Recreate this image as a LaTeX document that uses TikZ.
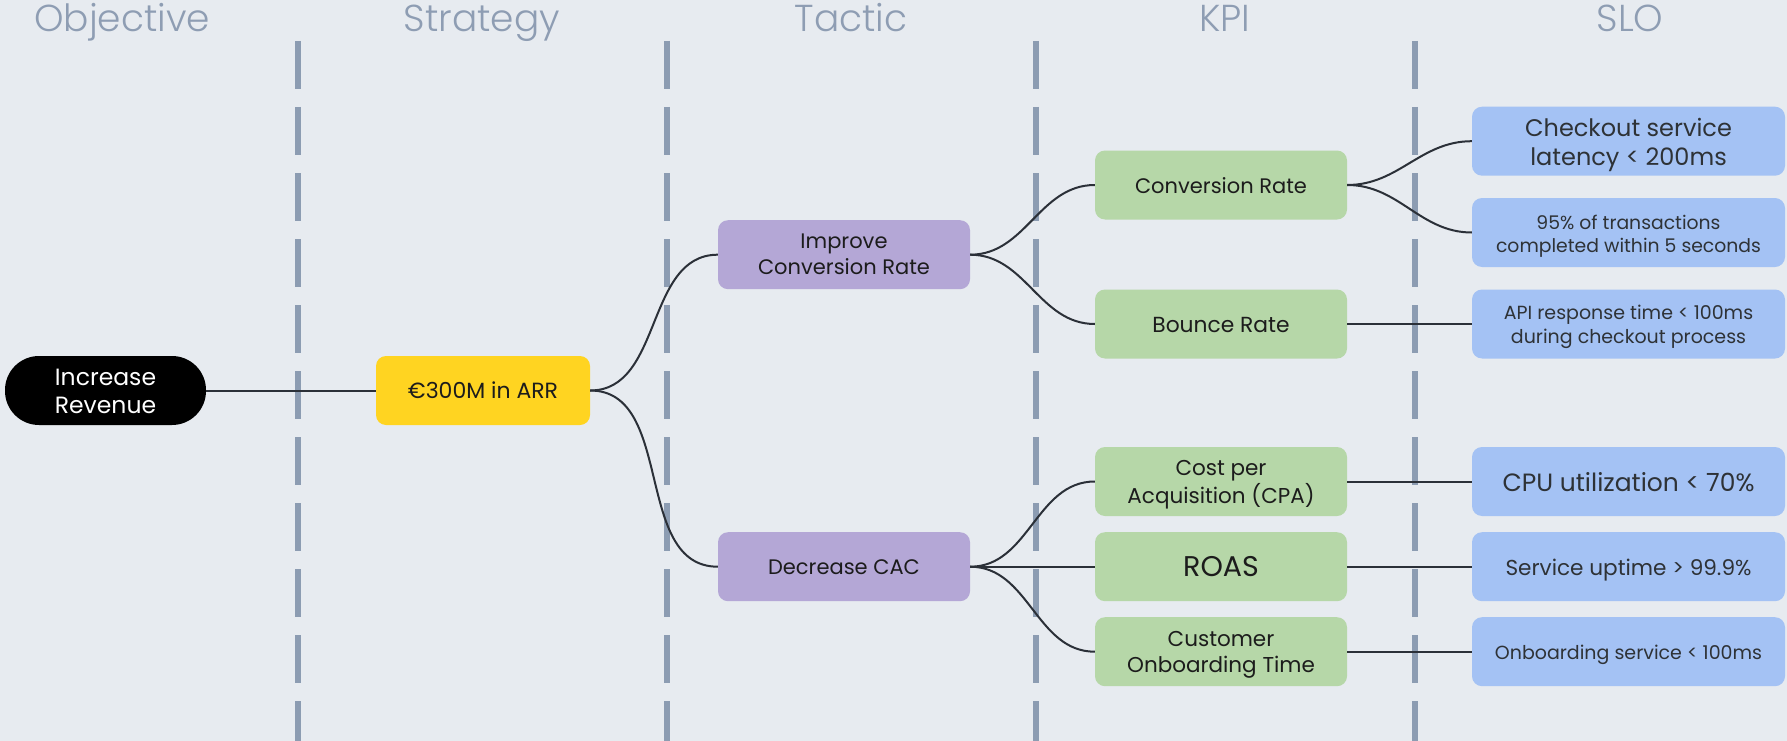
\documentclass[tikz,border=0pt]{standalone}
\usepackage{fontspec}
\setmainfont{Poppins}
\newfontfamily\hdrfont{Poppins Light}
\definecolor{bg}{HTML}{E7EBF0}
\definecolor{sepc}{HTML}{8C9CB2}
\definecolor{hdrc}{HTML}{8E9DB3}
\definecolor{linec}{HTML}{2B3038}
\definecolor{txt}{HTML}{1C1C1C}
\definecolor{slotxt}{HTML}{2E3236}
\definecolor{yel}{HTML}{FFD421}
\definecolor{pur}{HTML}{B4A7D6}
\definecolor{grn}{HTML}{B6D7A8}
\definecolor{blu}{HTML}{A4C2F4}
\newcommand\lowtxt[2]{\raisebox{-#1}[\height][\depth]{\begin{tabular}{@{}c@{}}#2\end{tabular}}}
\tikzset{
  sepline/.style={draw=sepc, line width=6pt, dash pattern=on 48pt off 18pt},
  hdr/.style={anchor=base, text=hdrc, font=\hdrfont\fontsize{37.5}{42}\selectfont},
  box/.style={rounded corners=10pt, minimum height=69pt, align=center, inner sep=0pt, text=txt, font=\fontsize{21}{26}\selectfont},
  objbox/.style={box, fill=black, text=white, minimum width=201pt, rounded corners=34pt, font=\fontsize{23.5}{28}\selectfont},
  strbox/.style={box, fill=yel, minimum width=214pt},
  tacbox/.style={box, fill=pur, minimum width=252pt},
  kpibox/.style={box, fill=grn, minimum width=252pt},
  slobox/.style={box, fill=blu, minimum width=313pt, text=slotxt},
  conn/.style={draw=linec, line width=2pt},
  fan/.style={conn, out=0, in=180}
}
\begin{document}
\begin{tikzpicture}[x=1pt,y=-1pt]
\useasboundingbox (0,0) rectangle (1787,741);
\fill[bg] (0,0) rectangle (1787,741);
% headers
\node[hdr] (hObj) at (122,32) {Objective};
\node[hdr] (hStr) at (482,32) {Strategy};
\node[hdr] (hTac) at (851,32) {Tactic};
\node[hdr] (hKpi) at (1225,32) {KPI};
\node[hdr] (hSlo) at (1630,32) {SLO};
% separators
\foreach \sx in {297.5,666.5,1035.5,1414.5}{
  \draw[sepline] (\sx,41) -- (\sx,745);
}
% nodes
\node[objbox] (rev) at (105.5,390.5) {\lowtxt{3.3pt}{Increase\\Revenue}};
\node[strbox, font=\fontsize{22}{26}\selectfont] (arr) at (483,390.5) {€300M in ARR};
\node[tacbox] (imp) at (844,254.7) {\lowtxt{1.8pt}{Improve\\Conversion Rate}};
\node[tacbox] (dec) at (844,566.7) {Decrease CAC};
\node[kpibox] (conv) at (1221,185) {\lowtxt{3.3pt}{Conversion Rate}};
\node[kpibox, font=\fontsize{21.8}{26}\selectfont] (bounce) at (1221,324) {\lowtxt{3.3pt}{Bounce Rate}};
\node[kpibox, font=\fontsize{21.5}{26}\selectfont] (cpa) at (1221,481.5) {\lowtxt{2.5pt}{Cost per\\Acquisition (CPA)}};
\node[kpibox, font=\fontsize{28.5}{32}\selectfont] (roas) at (1221,566.7) {ROAS};
\node[kpibox, font=\fontsize{21.5}{26}\selectfont] (cust) at (1221,651.7) {\lowtxt{3pt}{Customer\\Onboarding Time}};
\node[slobox, font=\fontsize{24}{29}\selectfont] (s1) at (1628.5,141.2) {\lowtxt{4.1pt}{Checkout service\\latency < 200ms}};
\node[slobox, font=\fontsize{18.8}{23}\selectfont] (s2) at (1628.5,232.5) {\lowtxt{4.3pt}{95\% of transactions\\completed within 5 seconds}};
\node[slobox, font=\fontsize{19}{23.5}\selectfont] (s3) at (1628.5,324) {\lowtxt{3pt}{API response time < 100ms\\during checkout process}};
\node[slobox, font=\fontsize{25}{29}\selectfont] (s4) at (1628.5,481.5) {\lowtxt{4.4pt}{CPU utilization < 70\%}};
\node[slobox, font=\fontsize{21.6}{26}\selectfont] (s5) at (1628.5,566.7) {\lowtxt{3.1pt}{Service uptime > 99.9\%}};
\node[slobox, font=\fontsize{19}{24}\selectfont] (s6) at (1628.5,651.7) {\lowtxt{3.1pt}{Onboarding service < 100ms}};
% connectors
\draw[conn] (rev.east) -- (arr.west);
\draw[fan] (arr.east) to (imp.west);
\draw[fan] (arr.east) to (dec.west);
\draw[fan] (imp.east) to (conv.west);
\draw[fan] (imp.east) to (bounce.west);
\draw[fan] (dec.east) to (cpa.west);
\draw[conn] (dec.east) -- (roas.west);
\draw[fan] (dec.east) to (cust.west);
\draw[fan] (conv.east) to (s1.west);
\draw[fan] (conv.east) to (s2.west);
\draw[conn] (bounce.east) -- (s3.west);
\draw[conn] (cpa.east) -- (s4.west);
\draw[conn] (roas.east) -- (s5.west);
\draw[conn] (cust.east) -- (s6.west);
\end{tikzpicture}
\end{document}
